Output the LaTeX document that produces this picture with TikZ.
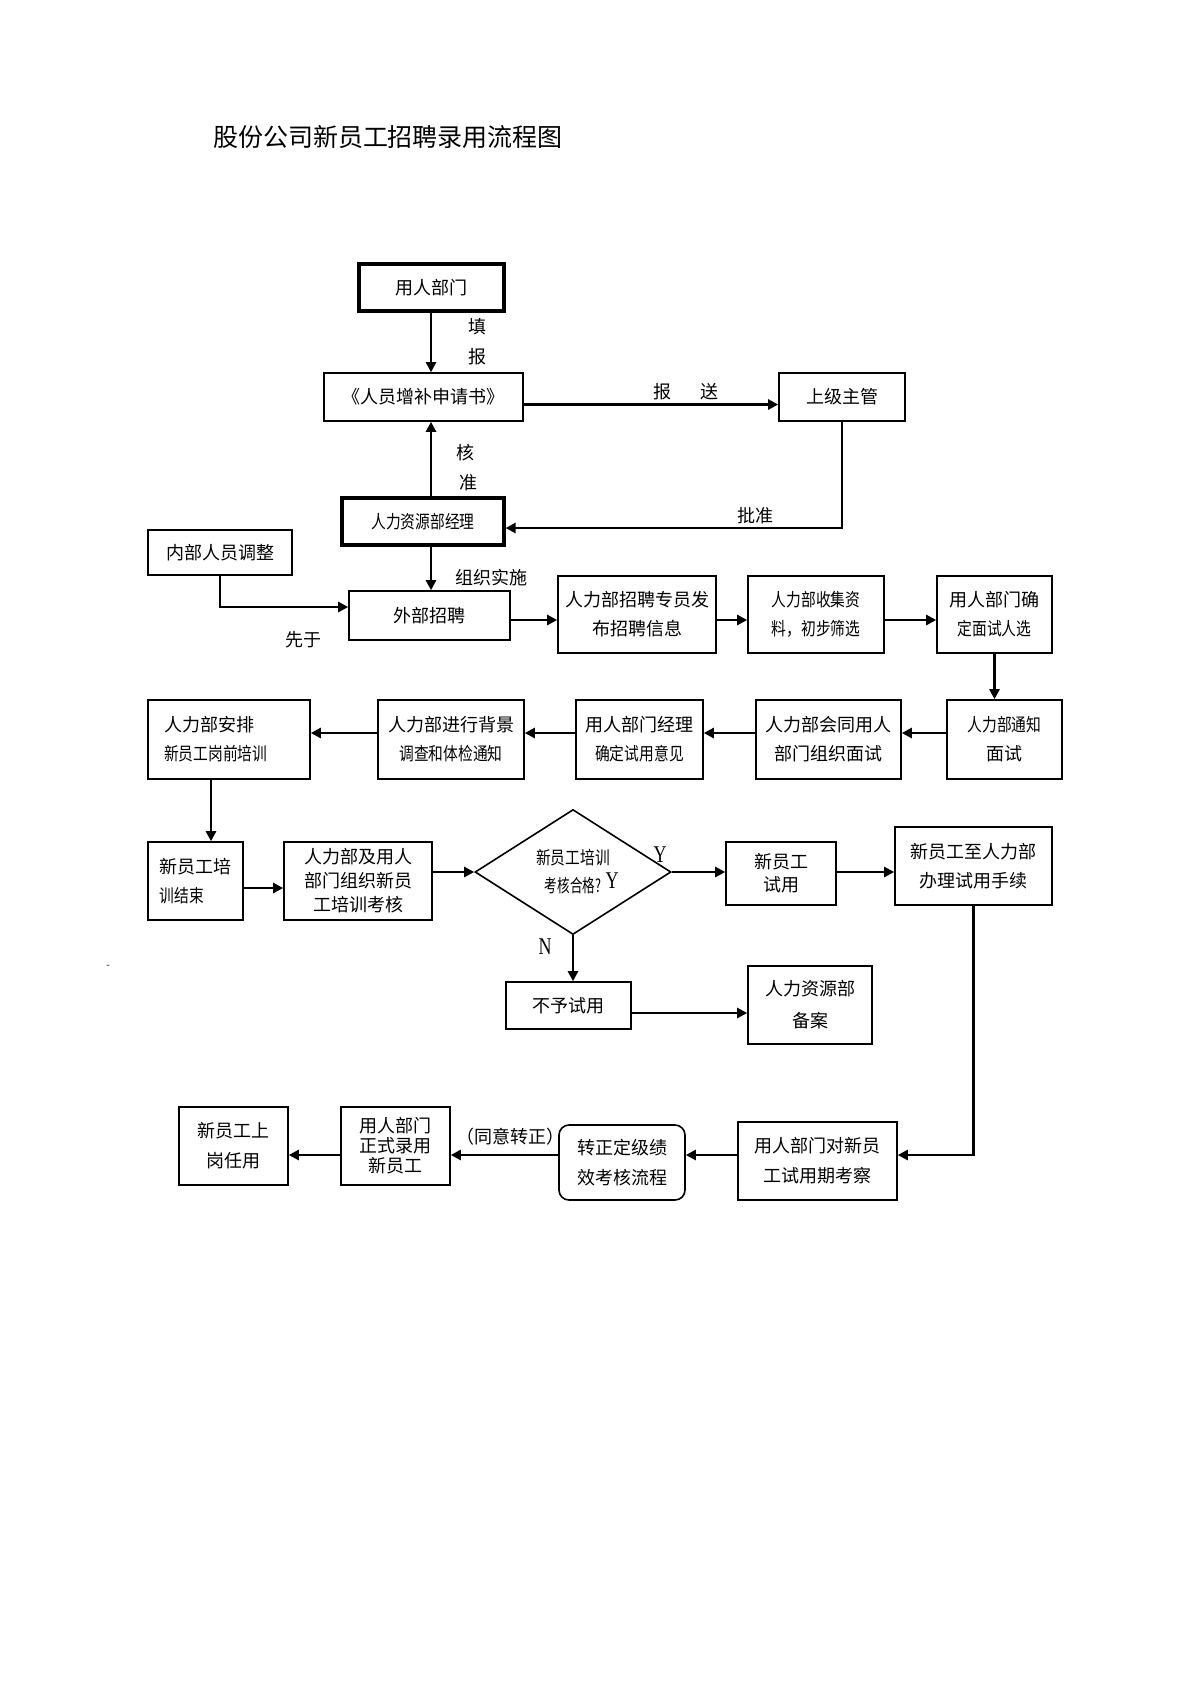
\documentclass[tikz,border=0pt]{standalone}
\usepackage{fontspec}
\setmainfont{Noto Sans CJK SC}
\newfontfamily\narrow[FakeStretch=0.82]{Noto Sans CJK SC}
\newfontfamily\xnarrow[FakeStretch=0.7]{Noto Sans CJK SC}
\newfontfamily\latin[FakeStretch=0.75]{Liberation Serif}
\usepackage{tikz}
\tikzstyle{boxes} = [rectangle, draw=black, line width=0.8pt, align=center, inner sep=0pt,
font=\fontsize{9pt}{14.5pt}\selectfont]
\tikzstyle{tboxes} = [boxes, line width=1.6pt]
\tikzstyle{rboxes} = [boxes, rounded corners=5pt]
\tikzstyle{dboxes} = [diamond, aspect=1.6, draw=black, line width=0.8pt, align=center,
inner sep=0pt, font=\fontsize{9pt}{14pt}\selectfont]
\tikzstyle{lbl} = [inner sep=0pt, font=\fontsize{9pt}{9pt}\selectfont]
\tikzstyle{yn} = [inner sep=0pt, font=\latin\fontsize{12pt}{12pt}\selectfont]
\tikzstyle{arrow} = [line width=1.2pt, ->, >={Triangle[length=5pt,width=5pt]}]
\usetikzlibrary{arrows.meta}
\usetikzlibrary{shapes.geometric}

\begin{document}
\begin{tikzpicture}[x=0.5pt, y=-0.5pt]
        \useasboundingbox (0,0) rectangle (1190,1683);

        \draw (388,137) node[lbl, font=\fontsize{12.5pt}{12.5pt}\selectfont] (title) {股份公司新员工招聘录用流程图};

        \draw (431.5,287.5) node[tboxes, minimum width=72.5pt, minimum height=23.5pt] (dept) {用人部门};
        \draw (423.5,397) node[boxes, minimum width=99.5pt, minimum height=24pt] (form) {《人员增补申请书》};
        \draw (842,397) node[boxes, minimum width=63pt, minimum height=24pt] (boss) {上级主管};
        \draw (423,521.5) node[tboxes, minimum width=81pt, minimum height=23.5pt] (hrm) {{\narrow 人力资源部经理}};
        \draw (220,552.5) node[boxes, minimum width=72pt, minimum height=22.5pt] (inner) {内部人员调整};
        \draw (429.5,615.5) node[boxes, minimum width=80.5pt, minimum height=24.5pt] (outer) {外部招聘};
        \draw (637,614.5) node[boxes, minimum width=79pt, minimum height=38.5pt] (post) {人力部招聘专员发\\布招聘信息};
        \draw (816,614.5) node[boxes, minimum width=68pt, minimum height=38.5pt] (screen) {{\narrow 人力部收集资}\\{\narrow 料，初步筛选}};
        \draw (994.5,614.5) node[boxes, minimum width=57.5pt, minimum height=38.5pt] (pick) {用人部门确\\{\narrow 定面试人选}};

        \draw (1004.5,739.5) node[boxes, minimum width=57.5pt, minimum height=39.5pt] (notify) {{\narrow 人力部通知}\\面试};
        \draw (828.5,739.5) node[boxes, minimum width=72.5pt, minimum height=39.5pt] (meet) {人力部会同用人\\部门组织面试};
        \draw (639.5,739.5) node[boxes, minimum width=63.5pt, minimum height=39.5pt] (opinion) {用人部门经理\\{\narrow 确定试用意见}};
        \draw (451,739.5) node[boxes, minimum width=73pt, minimum height=39.5pt] (check) {人力部进行背景\\{\narrow 调查和体检通知}};
        \draw (229,739.5) node[boxes, minimum width=81pt, minimum height=39.5pt, text width=65pt, align=left] (train) {人力部安排\\{\narrow 新员工岗前培训}};

        \draw (195.5,881) node[boxes, minimum width=47.5pt, minimum height=39pt, text width=36pt, align=left] (trainend) {新员工培\\{\narrow 训结束}};
        \draw (358,881) node[boxes, minimum width=74pt, minimum height=39pt, font=\fontsize{9pt}{12pt}\selectfont] (exam) {人力部及用人\\部门组织新员\\工培训考核};
        \draw (573,872) node[dboxes, minimum width=98pt, minimum height=62.5pt] (pass) {{\narrow 新员工培训}\\{\xnarrow 考核合格?}};
        \draw (781,873.5) node[boxes, minimum width=55pt, minimum height=31.5pt, font=\fontsize{9pt}{11.5pt}\selectfont] (trial) {新员工\\试用};
        \draw (973.5,866) node[boxes, minimum width=78.5pt, minimum height=39pt] (proc) {新员工至人力部\\办理试用手续};
        \draw (568.5,1005.5) node[boxes, minimum width=62.5pt, minimum height=23.5pt] (reject) {不予试用};
        \draw (810,1005) node[boxes, minimum width=62pt, minimum height=39pt, font=\fontsize{9pt}{16pt}\selectfont] (record) {人力资源部\\备案};

        \draw (817.5,1161) node[boxes, minimum width=79.5pt, minimum height=39pt, font=\fontsize{9pt}{15pt}\selectfont] (review) {用人部门对新员\\工试用期考察};
        \draw (622,1162.5) node[rboxes, minimum width=63pt, minimum height=37.5pt, font=\fontsize{9pt}{15pt}\selectfont] (regular) {转正定级绩\\效考核流程};
        \draw (395.5,1146) node[boxes, minimum width=54.5pt, minimum height=39pt, font=\fontsize{9pt}{10pt}\selectfont] (hire) {用人部门\\正式录用\\新员工};
        \draw (233.5,1146) node[boxes, minimum width=54.5pt, minimum height=39pt, font=\fontsize{9pt}{15pt}\selectfont] (onduty) {新员工上\\岗任用};

        % Labels
        \draw (477,327) node[lbl] (tian) {填};
        \draw (477,357) node[lbl] (bao) {报};
        \draw (686,392) node[lbl] (baosong) {报\hspace{15pt}送};
        \draw (465,453) node[lbl] (he) {核};
        \draw (468,483) node[lbl] (zhun) {准};
        \draw (755,516) node[lbl] (pizhun) {批准};
        \draw (491,578) node[lbl] (zuzhi) {组织实施};
        \draw (303,640) node[lbl] (xianyu) {先于};
        \draw (660,855) node[yn] (yes) {Y};
        \draw (612,881) node[yn] (yes2) {Y};
        \draw (545,947) node[yn] (no) {N};
        \draw (510,1137) node[lbl] (agree) {（同意转正）};
        \draw (108,967) node[lbl, font=\fontsize{5pt}{5pt}\selectfont] (dash) {-};

        % Levels
        \coordinate (vx) at (431,0);
        \coordinate (h1) at (0,404.5);
        \coordinate (h2) at (0,528);
        \coordinate (h3) at (0,607);
        \coordinate (h4) at (0,620);
        \coordinate (h5) at (0,733);
        \coordinate (vx2) at (211,0);
        \coordinate (h6) at (0,888);
        \coordinate (h7) at (0,1013);
        \coordinate (h8) at (0,1155);

        % Arrows
        \draw[arrow] (dept.south -| vx) -- (form.north -| vx);
        \draw[arrow] (form.east |- h1) -- (boss.west |- h1);
        \draw[arrow] (hrm.north -| vx) -- (form.south -| vx);
        \draw[arrow] (boss.south) |- (hrm.east |- h2);
        \draw[arrow] (hrm.south -| vx) -- (outer.north -| vx);
        \draw[arrow] (inner.south) |- (outer.west |- h3);
        \draw[arrow] (outer.east |- h4) -- (post.west |- h4);
        \draw[arrow] (post.east |- h4) -- (screen.west |- h4);
        \draw[arrow] (screen.east |- h4) -- (pick.west |- h4);
        \draw[arrow] (pick.south) -- (pick.south |- notify.north);

        \draw[arrow] (notify.west |- h5) -- (meet.east |- h5);
        \draw[arrow] (meet.west |- h5) -- (opinion.east |- h5);
        \draw[arrow] (opinion.west |- h5) -- (check.east |- h5);
        \draw[arrow] (check.west |- h5) -- (train.east |- h5);
        \draw[arrow] (train.south -| vx2) -- (trainend.north -| vx2);

        \draw[arrow] (trainend.east |- h6) -- (exam.west |- h6);
        \draw[arrow] (exam.east |- pass.west) -- (pass.west);
        \draw[arrow] (pass.east) -- (trial.west |- pass.east);
        \draw[arrow] (trial.east |- pass.east) -- (proc.west |- pass.east);
        \draw[arrow] (pass.south) -- (reject.north -| pass.south);
        \draw[arrow] (reject.east |- h7) -- (record.west |- h7);

        \draw[arrow] (proc.south) |- (review.east |- h8);
        \draw[arrow] (review.west |- h8) -- (regular.east |- h8);
        \draw[arrow] (regular.west |- h8) -- (hire.east |- h8);
        \draw[arrow] (hire.west |- h8) -- (onduty.east |- h8);
    \end{tikzpicture}
\end{document}
